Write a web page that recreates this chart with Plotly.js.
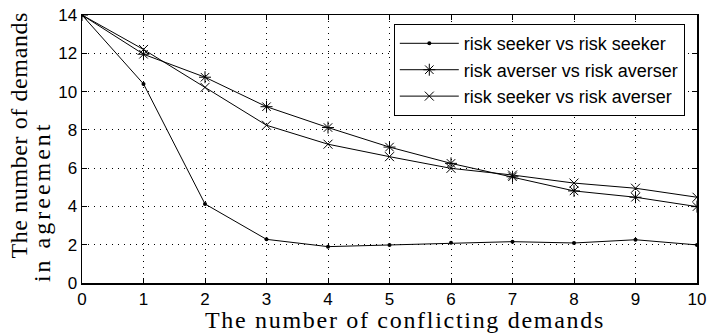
<!DOCTYPE html>
<html>
<head>
<meta charset="utf-8">
<script src="https://cdn.plot.ly/plotly-3.0.1.min.js"></script>
<style>
html,body{margin:0;padding:0;background:#fff;}
#chart{width:708px;height:333px;}
g.annotation[data-index="0"] text{letter-spacing:0.6px;}
g.annotation[data-index="1"] text{letter-spacing:3px;}
g.annotation[data-index="2"] text{letter-spacing:1.7px;}
</style>
</head>
<body>
<div id="chart"></div>
<script>
const conflicts = [0, 1, 2, 3, 4, 5, 6, 7, 8, 9, 10];
const seekerVsSeeker = [14, 10.4, 4.13, 2.28, 1.9, 1.99, 2.1, 2.16, 2.09, 2.26, 1.99];
const averserVsAverser = [14, 11.95, 10.75, 9.21, 8.12, 7.1, 6.25, 5.55, 4.81, 4.48, 3.99];
const seekerVsAverser = [14, 12.2, 10.22, 8.24, 7.25, 6.6, 5.99, 5.64, 5.22, 4.95, 4.48];
const seriesNames = ['risk seeker vs risk seeker', 'risk averser vs risk averser', 'risk seeker vs risk averser'];
const xTicks = [0, 1, 2, 3, 4, 5, 6, 7, 8, 9, 10];
const yTicks = [0, 2, 4, 6, 8, 10, 12, 14];
const xTitle = 'The number of conflicting demands';
const yTitle1 = 'The number of demands';
const yTitle2 = 'in agreement';

const lineStyle = {color: '#000', width: 1};
const traces = [
  {x: conflicts, y: seekerVsSeeker, name: seriesNames[0], mode: 'lines+markers',
   line: lineStyle, marker: {symbol: 'circle', size: 4, color: '#000'}},
  {x: conflicts, y: averserVsAverser, name: seriesNames[1], mode: 'lines+markers',
   line: lineStyle, marker: {symbol: 'asterisk-open', size: 10, color: '#000', line: {color: '#000', width: 1}}},
  {x: conflicts, y: seekerVsAverser, name: seriesNames[2], mode: 'lines+markers',
   line: lineStyle, marker: {symbol: 'x-thin-open', size: 9, color: '#000', line: {color: '#000', width: 1}}}
];

const axisCommon = {
  showline: true, linecolor: '#000', linewidth: 1.5, mirror: 'ticks',
  ticks: 'inside', ticklen: 5, tickcolor: '#000', tickwidth: 1,
  showgrid: true, gridcolor: '#000', gridwidth: 1, griddash: '1px,5px',
  zeroline: false,
  tickfont: {family: 'Liberation Sans, Arial, sans-serif', size: 17, color: '#000'}
};

const serif = 'Liberation Serif, Times New Roman, serif';

const layout = {
  width: 708, height: 333,
  margin: {l: 82, r: 11, t: 15, b: 50},
  paper_bgcolor: '#fff', plot_bgcolor: '#fff',
  showlegend: true,
  legend: {x: 0.507, y: 0.966, xanchor: 'left', yanchor: 'top',
    bgcolor: '#fff', bordercolor: '#000', borderwidth: 1,
    itemwidth: 59,
    font: {family: 'Liberation Sans, Arial, sans-serif', size: 18, color: '#000'},
    tracegroupgap: 0},
  xaxis: Object.assign({}, axisCommon, {range: [0, 10], tickvals: xTicks, ticktext: xTicks.map(String)}),
  yaxis: Object.assign({}, axisCommon, {range: [0, 14], tickvals: yTicks, ticktext: yTicks.map(String)}),
  annotations: [
    {text: yTitle1, xref: 'paper', yref: 'paper', x: -0.1034, y: 0.553, xanchor: 'center', yanchor: 'middle',
     textangle: -90, showarrow: false, font: {family: serif, size: 24, color: '#000'}},
    {text: yTitle2, xref: 'paper', yref: 'paper', x: -0.065, y: 0.302, xanchor: 'center', yanchor: 'middle',
     textangle: -90, showarrow: false, font: {family: serif, size: 24, color: '#000'}},
    {text: xTitle, xref: 'paper', yref: 'paper', x: 0.525, y: -0.138, xanchor: 'center', yanchor: 'middle',
     showarrow: false, font: {family: serif, size: 24, color: '#000'}}
  ]
};

Plotly.newPlot('chart', traces, layout, {displayModeBar: false, staticPlot: true});
</script>
</body>
</html>
